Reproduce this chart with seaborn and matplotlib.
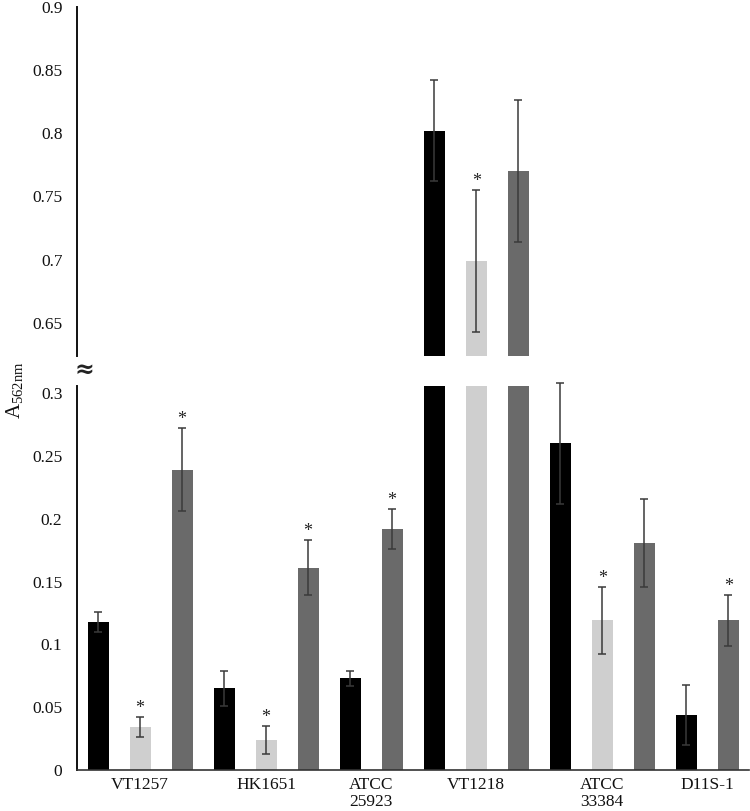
import matplotlib
matplotlib.use("Agg")
import matplotlib.pyplot as plt
import seaborn as sns
import pandas as pd
import numpy as np

# ---- data ----
groups = ["VT1257", "HK1651", "ATCC\n25923", "VT1218", "ATCC\n33384", "D11S-1"]
series_names = ["Series 1", "Series 2", "Series 3"]
s1 = [0.118, 0.065, 0.073, 0.802, 0.260, 0.044]
s2 = [0.034, 0.024, None, 0.699, 0.119, None]
s3 = [0.239, 0.161, 0.192, 0.770, 0.181, 0.119]
e1 = [0.008, 0.014, 0.006, 0.040, 0.048, 0.024]
e2 = [0.008, 0.011, None, 0.056, 0.027, None]
e3 = [0.033, 0.022, 0.016, 0.056, 0.035, 0.020]
sig1 = [False, False, False, False, False, False]
sig2 = [True, True, False, True, True, False]
sig3 = [True, True, True, False, False, True]
top_ticks = [0.65, 0.7, 0.75, 0.8, 0.85, 0.9]
bot_ticks = [0, 0.05, 0.1, 0.15, 0.2, 0.25, 0.3]

colors = {"Series 1": "#000000", "Series 2": "#cfcfcf", "Series 3": "#6a6a6a"}

# build slot table
rows = []
slot = 0
group_bounds = [-0.5]
group_centers = []
vals = [s1, s2, s3]
errs = [e1, e2, e3]
sigs = [sig1, sig2, sig3]
for gi, g in enumerate(groups):
    start = slot
    for si, name in enumerate(series_names):
        v = vals[si][gi]
        if v is None:
            continue
        rows.append(dict(slot=slot, series=name, value=v, err=errs[si][gi], sig=sigs[si][gi]))
        slot += 1
    group_bounds.append(slot - 0.5)
    group_centers.append((start + slot - 1) / 2)
df = pd.DataFrame(rows)
nslots = slot

# ---- style ----
sns.set_style("white")
plt.rcParams["font.family"] = ["Liberation Serif", "DejaVu Serif"]
plt.rcParams["mathtext.fontset"] = "custom"
plt.rcParams["mathtext.rm"] = "Liberation Serif"

W, H = 750, 811
fig = plt.figure(figsize=(7.5, 8.11), dpi=100)
left = 77 / W
right = 0.999
ax_top = fig.add_axes([left, 1 - 356 / H, right - left, (356 - 7) / H])
ax_bot = fig.add_axes([left, 1 - 770 / H, right - left, (770 - 386) / H])

top_lim = (0.6237, 0.9)
bot_lim = (0.0, 0.3056)

order = list(range(nslots))
for ax in (ax_top, ax_bot):
    sns.barplot(data=df, x="slot", y="value", hue="series", order=order,
                palette=colors, dodge=False, width=0.5, legend=False,
                errorbar=None, saturation=1, ax=ax, linewidth=0)
    ax.set_xlim(-0.5, nslots - 0.5)
    ax.set_xlabel("")
    ax.set_ylabel("")
    for sp in ("top", "right"):
        ax.spines[sp].set_visible(False)
    ax.spines["left"].set_linewidth(1.4)
    ax.spines["left"].set_color("#111111")
    ax.tick_params(axis="y", length=0, pad=10.5, labelsize=12.5, colors="#111111")

ax_top.set_ylim(*top_lim)
ax_bot.set_ylim(*bot_lim)
ax_top.set_yticks(top_ticks)
ax_top.set_yticklabels([f"{t:g}" for t in top_ticks])
ax_bot.set_yticks(bot_ticks)
ax_bot.set_yticklabels([f"{t:g}" for t in bot_ticks])

ax_top.spines["bottom"].set_visible(False)
ax_top.set_xticks([])
ax_bot.spines["bottom"].set_linewidth(1.2)
ax_bot.spines["bottom"].set_color("#333333")
ax_bot.set_xticks(group_bounds)
ax_bot.set_xticklabels([""] * len(group_bounds))
ax_bot.tick_params(axis="x", which="major", length=6, width=1, color="#333333", direction="out")
ax_bot.set_xticks(group_centers, minor=True)
ax_bot.set_xticklabels(groups, minor=True, fontsize=12.5, color="#111111", linespacing=1.05)
ax_bot.tick_params(axis="x", which="minor", length=0, pad=5)

# error bars and stars
for _, r in df.iterrows():
    ax = ax_bot if r.value < bot_lim[1] else ax_top
    ax.errorbar(r.slot, r.value, yerr=r.err, fmt="none", ecolor="#3a3a3a",
                elinewidth=1.1, capsize=3, capthick=1.1, clip_on=False, zorder=5)
    if r.sig:
        ax.text(r.slot, r.value + r.err, "*", ha="center", va="bottom",
                fontsize=13, color="#222222")

# break symbol and y label
fig.text(84 / W, 1 - 370 / H, "≈", ha="center", va="center", fontsize=17,
         fontweight="bold", color="#222222", family=["DejaVu Serif"])
fig.text(15 / W, 1 - 390 / H, r"A$_{\mathrm{562nm}}$", rotation=90,
         ha="center", va="center", fontsize=15, color="#111111")

fig.savefig("out.png", dpi=100)
